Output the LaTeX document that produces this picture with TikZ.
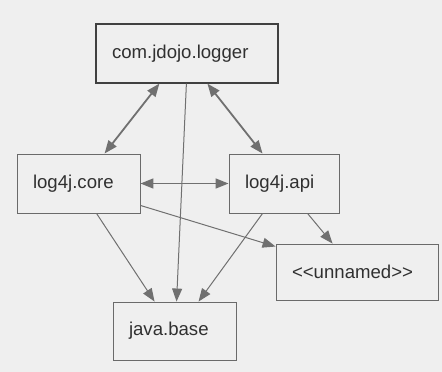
\documentclass[tikz,border=0pt]{standalone}
\usepackage{fontspec}
\setmainfont{Liberation Sans}
\usetikzlibrary{arrows.meta}
\definecolor{bgc}{HTML}{EFEFEF}
\definecolor{boxc}{HTML}{6A6A6A}
\definecolor{edgec}{HTML}{707070}
\definecolor{txtc}{HTML}{303030}
\tikzset{
  modbox/.style={draw=boxc, line width=0.9pt, fill=bgc, text=txtc, inner xsep=16pt, inner ysep=0pt,
    align=left, font=\fontsize{18.6}{20}\selectfont},
  thinedge/.style={draw=edgec, line width=1pt, -{Triangle[length=13pt,width=10pt]}},
  dualedge/.style={draw=edgec, line width=1.8pt, {Triangle[length=13pt,width=10pt]}-{Triangle[length=13pt,width=10pt]}}
}
\begin{document}
\begin{tikzpicture}[x=1pt,y=-1pt]
\fill[bgc] (0,0) rectangle (442,372);
\useasboundingbox (0,0) rectangle (442,372);
\node[modbox, draw=black!75, line width=1.2pt, text width=150pt, minimum height=59pt] (logger) at (187,53.5) {com.jdojo.logger};
\node[modbox, text width=91pt, minimum height=59pt] (core) at (78.5,183.5) {log4j.core};
\node[modbox, text width=78pt, minimum height=59pt] (api) at (284,183.5) {log4j.api};
\node[modbox, text width=130pt, minimum height=56pt] (unnamed) at (357,272) {<\kern0pt<unnamed>\kern0pt>};
\node[modbox, text width=91pt, minimum height=58pt] (java) at (174.5,331) {java.base};
\draw[dualedge] ([xshift=64pt]logger.south west) -- ([xshift=88pt]core.north west);
\draw[dualedge] ([xshift=112pt]logger.south west) -- ([xshift=34pt]api.north west);
\draw[dualedge, line width=1.4pt] (core.east) -- (api.west);
\draw[thinedge] ([xshift=91pt]logger.south west) -- ([xshift=64pt]java.north west);
\draw[thinedge] ([xshift=80pt]core.south west) -- ([xshift=42pt]java.north west);
\draw[thinedge] ([xshift=34pt]api.south west) -- ([xshift=86pt]java.north west);
\draw[thinedge] ([yshift=8pt]core.south east) -- ([yshift=-3pt]unnamed.north west);
\draw[thinedge] ([xshift=79pt]api.south west) -- ([xshift=57pt]unnamed.north west);
\end{tikzpicture}
\end{document}
